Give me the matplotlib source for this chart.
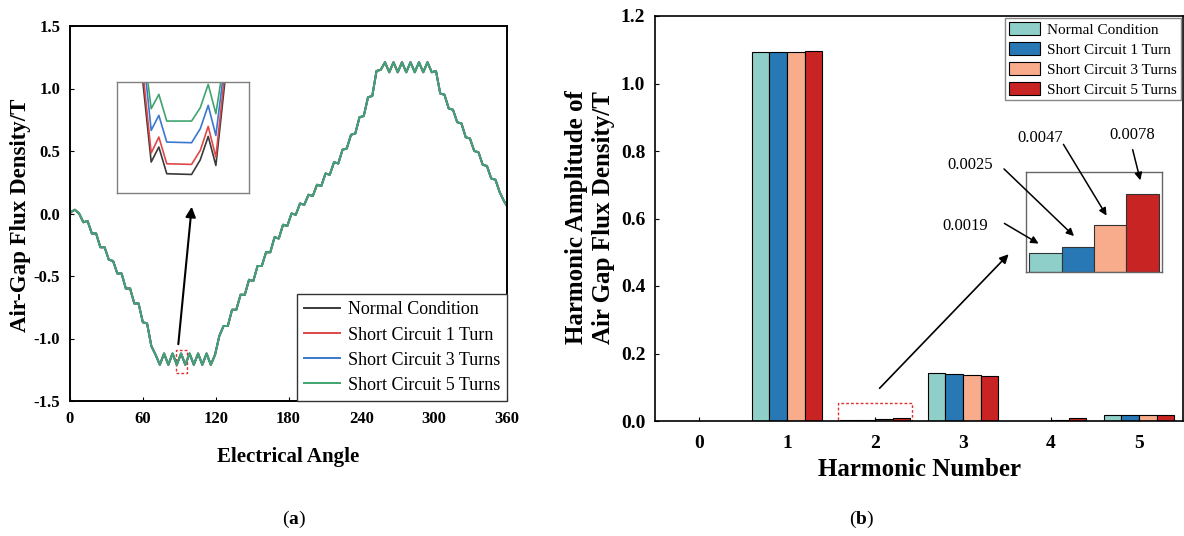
import matplotlib
matplotlib.use("Agg")
import matplotlib.pyplot as plt
from matplotlib.patches import Rectangle
import numpy as np

plt.rcParams['font.family'] = ['Liberation Serif', 'DejaVu Serif']
plt.rcParams['mathtext.fontset'] = 'custom'
plt.rcParams['mathtext.rm'] = 'Liberation Serif'
plt.rcParams['mathtext.bf'] = 'Liberation Serif:bold'

# ---- (a) air-gap flux density waveform ----
series_labels = ["Normal Condition", "Short Circuit 1 Turn",
                 "Short Circuit 3 Turns", "Short Circuit 5 Turns"]
line_colors = ['#3a3a3a', '#e04848', '#3a78d0', '#41a46f']

angle = [0, 0.5, 4, 7.5, 11, 14.5, 18, 21.5, 25, 28.5, 32, 35.5, 39, 42.5, 46, 49.5,
         53, 56.5, 60, 63.5, 67, 70.5, 74, 77.5, 81, 84.5, 88, 91.5, 95, 98.5, 102,
         105.5, 109, 112.5, 116, 119.5, 123, 126.5, 130, 133.5, 137, 140.5, 144, 147.5,
         151, 154.5, 158, 161.5, 165, 168.5, 172, 175.5, 179, 182.5, 186, 189.5, 193,
         196.5, 200, 203.5, 207, 210.5, 214, 217.5, 221, 224.5, 228, 231.5, 235, 238.5,
         242, 245.5, 249, 252.5, 256, 259.5, 263, 266.5, 270, 273.5, 277, 280.5, 284,
         287.5, 291, 294.5, 298, 301.5, 305, 308.5, 312, 315.5, 319, 322.5, 326, 329.5,
         333, 336.5, 340, 343.5, 347, 350.5, 354, 357.5, 360]
flux = [0.00, 0.01, 0.03, 0.00, -0.07, -0.06, -0.16, -0.16, -0.27, -0.27, -0.37, -0.38,
        -0.48, -0.48, -0.60, -0.60, -0.72, -0.72, -0.87, -0.88, -1.06, -1.13, -1.21,
        -1.12, -1.21, -1.12, -1.21, -1.12, -1.21, -1.12, -1.21, -1.12, -1.21, -1.12,
        -1.21, -1.13, -0.98, -0.90, -0.90, -0.77, -0.77, -0.65, -0.65, -0.53, -0.54,
        -0.42, -0.42, -0.31, -0.31, -0.19, -0.20, -0.09, -0.10, 0.00, -0.01, 0.08, 0.07,
        0.15, 0.14, 0.23, 0.22, 0.32, 0.31, 0.41, 0.40, 0.51, 0.52, 0.63, 0.64, 0.77,
        0.78, 0.93, 0.94, 1.14, 1.15, 1.21, 1.13, 1.21, 1.13, 1.21, 1.13, 1.21, 1.13,
        1.21, 1.13, 1.21, 1.13, 1.14, 0.96, 0.95, 0.84, 0.83, 0.73, 0.72, 0.61, 0.60,
        0.50, 0.49, 0.39, 0.38, 0.28, 0.27, 0.17, 0.10, 0.06]

# zoomed detail near 90 deg
zoom_x = [[88.96, 89.59, 90.17, 90.77, 92.65, 93.31, 93.91, 94.49, 95.17],
          [89.04, 89.59, 90.17, 90.77, 92.65, 93.31, 93.91, 94.49, 95.10],
          [89.21, 89.59, 90.17, 90.77, 92.65, 93.31, 93.91, 94.49, 94.99],
          [89.34, 89.59, 90.17, 90.77, 92.65, 93.31, 93.91, 94.49, 94.86]]
zoom_y = [[-1.100, -1.2226, -1.1996, -1.2405, -1.2416, -1.2191, -1.1833, -1.2278, -1.100],
          [-1.100, -1.2088, -1.1843, -1.2252, -1.2262, -1.2047, -1.1680, -1.2150, -1.100],
          [-1.100, -1.1741, -1.1511, -1.1920, -1.1930, -1.1715, -1.1358, -1.1818, -1.100],
          [-1.100, -1.1409, -1.1189, -1.1598, -1.1598, -1.1393, -1.1036, -1.1485, -1.100]]

# ---- (b) harmonic amplitudes ----
harmonics = [0, 1, 2, 3, 4, 5]
bar_colors = ['#8ECFC9', '#2878B5', '#F8AC8C', '#C82423']
amp_normal = [0.0, 1.092, 0.0019, 0.143, 0.0005, 0.017]
amp_sc1 = [0.0, 1.092, 0.0025, 0.140, 0.0006, 0.017]
amp_sc3 = [0.0, 1.092, 0.0047, 0.136, 0.004, 0.019]
amp_sc5 = [0.0, 1.095, 0.0078, 0.132, 0.009, 0.019]
amps = [amp_normal, amp_sc1, amp_sc3, amp_sc5]

W, H = 1184, 536
fig = plt.figure(figsize=(W / 100, H / 100), dpi=100)

def fig_rect(x0, y0, x1, y1):
    return [x0 / W, 1 - y1 / H, (x1 - x0) / W, (y1 - y0) / H]

# ---------- panel (a) ----------
ax1 = fig.add_axes(fig_rect(70, 26, 507, 401))
for lab, col in zip(series_labels, line_colors):
    ax1.plot(angle, flux, color=col, lw=1.4, label=lab)
ax1.set_xlim(0, 360)
ax1.set_ylim(-1.5, 1.5)
ax1.set_xticks(range(0, 361, 60))
yt = np.arange(-1.5, 1.51, 0.5)
ax1.set_yticks(yt)
ax1.set_yticklabels([f"{v:.1f}" for v in yt])
ax1.tick_params(direction='in', length=3, pad=7, labelsize=12)
for t in ax1.get_xticklabels() + ax1.get_yticklabels():
    t.set_fontweight('bold')
for s in ax1.spines.values():
    s.set_linewidth(1.4)
ax1.set_xlabel("Electrical Angle", fontsize=15, fontweight='bold')
ax1.set_ylabel("Air-Gap Flux Density/T", fontsize=16.5, fontweight='bold')
ax1.xaxis.set_label_coords(0.499, -0.123)
ax1.yaxis.set_label_coords(-0.089, 0.496)
leg1 = ax1.legend(loc='lower right', borderaxespad=0, fontsize=13, fancybox=False,
                  edgecolor='#333333', framealpha=1, handlelength=2.0,
                  labelspacing=0.45, borderpad=0.4, handletextpad=0.4)
leg1.get_frame().set_linewidth(1.0)
ax1.add_patch(Rectangle((87.3, -1.276), 9.3, 0.184, fill=False, ec='#e03030',
                        ls=(0, (2, 1.5)), lw=1))
ax1.annotate('', xy=(100.5, 0.076), xytext=(89, -1.068),
             arrowprops=dict(arrowstyle='-|>', color='black', lw=1.5, mutation_scale=15))

axz = fig.add_axes(fig_rect(117, 82, 249, 193))
for xs, ys, col in zip(zoom_x, zoom_y, line_colors):
    axz.plot(xs, ys, color=col, lw=1.2)
axz.set_xlim(87, 97)
axz.set_ylim(-1.27, -1.10)
axz.set_xticks([])
axz.set_yticks([])
for s in axz.spines.values():
    s.set_color('#808080')
    s.set_linewidth(1)

# ---------- panel (b) ----------
ax2 = fig.add_axes(fig_rect(655, 16, 1183, 421))
offsets = [-0.3, -0.1, 0.1, 0.3]
for vals, col, lab, off in zip(amps, bar_colors, series_labels, offsets):
    ax2.bar([h + off for h in harmonics], vals, width=0.2, color=col,
            edgecolor='black', linewidth=0.8, label=lab)
ax2.set_xlim(-0.5, 5.5)
ax2.set_ylim(0, 1.2)
ax2.set_xticks(harmonics)
yt2 = np.arange(0, 1.21, 0.2)
ax2.set_yticks(yt2)
ax2.set_yticklabels([f"{v:.1f}" for v in yt2])
ax2.tick_params(direction='in', length=3, labelsize=14)
ax2.tick_params(axis='x', pad=10)
ax2.tick_params(axis='y', pad=7)
for t in ax2.get_xticklabels() + ax2.get_yticklabels():
    t.set_fontweight('bold')
for s in ax2.spines.values():
    s.set_linewidth(1.2)
ax2.set_xlabel("Harmonic Number", fontsize=18, fontweight='bold')
ax2.set_ylabel("Harmonic Amplitude of\nAir Gap Flux Density/T", fontsize=18,
               fontweight='bold', linespacing=1.2)
ax2.xaxis.set_label_coords(0.5, -0.092)
ax2.yaxis.set_label_coords(-0.076, 0.503)
leg2 = ax2.legend(loc='upper right', borderaxespad=0.15, fontsize=11, fancybox=False,
                  edgecolor='#888888', framealpha=1, handlelength=2.0, handleheight=0.9,
                  labelspacing=0.35, borderpad=0.25, handletextpad=0.5)
leg2.get_frame().set_linewidth(1.0)
ax2.add_patch(Rectangle((1.58, 0), 0.84, 0.053, fill=False, ec='#e03030',
                        ls=(0, (2, 1.5)), lw=1))
ax2.annotate('', xy=(3.54, 0.50), xytext=(2.03, 0.091),
             arrowprops=dict(arrowstyle='-|>', color='black', lw=1.2, mutation_scale=13))

# zoomed second harmonic
axb = fig.add_axes(fig_rect(1026, 172, 1162, 272))
h2 = [a[2] for a in amps]
axb.bar(range(4), h2, width=1.0, color=bar_colors, edgecolor='#333333', linewidth=0.8)
axb.set_xlim(-0.6, 3.6)
axb.set_ylim(0, 0.01)
axb.set_xticks([])
axb.set_yticks([])
for s in axb.spines.values():
    s.set_color('#666666')
    s.set_linewidth(1)

# value callouts (figure pixel positions, image y measured from top)
callouts = [((965, 226), (1002, 222), (1041, 245)),
            ((970, 165), (1002, 167), (1076, 238)),
            ((1040, 138), (1062, 142), (1108, 218)),
            ((1132, 135), (1132, 147), (1141, 183))]
for v, (txy, a0, a1) in zip(h2, callouts):
    fig.text(txy[0] / W, 1 - txy[1] / H, f"{v:.4f}", fontsize=12, ha='center', va='center')
    axb.annotate('', xy=(a1[0], H - a1[1]), xytext=(a0[0], H - a0[1]),
                 xycoords='figure pixels', textcoords='figure pixels',
                 annotation_clip=False,
                 arrowprops=dict(arrowstyle='-|>', color='black', lw=1.1, mutation_scale=11))

fig.text(294 / W, 1 - 519 / H, r'$(\mathbf{a})$', fontsize=14, ha='center', va='center')
fig.text(862 / W, 1 - 519 / H, r'$(\mathbf{b})$', fontsize=14, ha='center', va='center')

fig.savefig("out.png", dpi=100)
